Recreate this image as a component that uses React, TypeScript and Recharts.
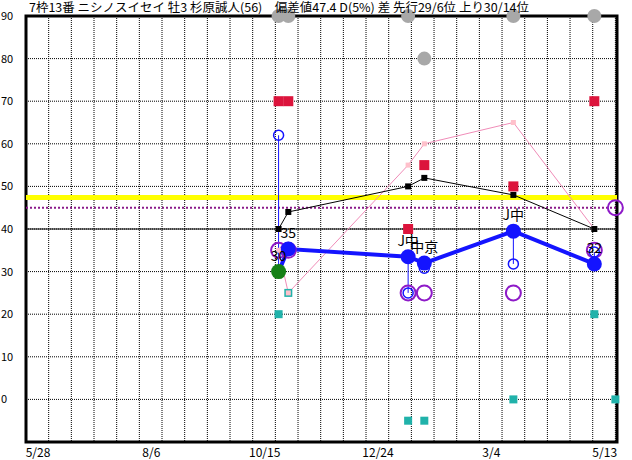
import React from 'react';
import {
  ComposedChart,
  Line,
  Scatter,
  XAxis,
  YAxis,
  CartesianGrid,
  ReferenceLine,
  ReferenceArea,
  ErrorBar,
  LabelList,
} from 'recharts';

const FONT = '"Noto Sans CJK JP", "Noto Sans", sans-serif';

const title = '7枠13番 ニシノスイセイ 牡3 杉原誠人(56)　偏差値47.4 D(5%) 差 先行29/6位 上り30/14位';

// axis
const tickDates = ['5/28', '8/6', '10/15', '12/24', '3/4', '5/13'];
const yTicks = [0, 10, 20, 30, 40, 50, 60, 70, 80, 90];
const lastDate = '5/27';

// races
const raceDates = ['10/31', '11/6', '1/19', '1/29', '3/25', '5/14'];
const raceLabels = ['30', '35', 'J中', '中京', 'J中', '32'];
const indexValues = [30, 35.3, 33.5, 32, 39.5, 31.8];
const rangeValues = [62, 35, 25, 30.8, 31.8, 34.6];
const purpleValues = [35, 35, 25, 25, 25, 35];
const grayValues = [90, 90, 90, 80, 90, 90];
const redValues = [70, 70, 40, 55, 50, 70];
const cyanValues = [20, 25, -5, -5, 0, 20];
const pinkValues = [35, 25, 55, 60, 65, 40];
const blackValues = [40, 44, 50, 52, 48, 40];

// next race
const nextDate = '5/27';
const purpleNext = 45;
const cyanNext = 0;

// horizontal markers
const deviation = 47.4;
const averageLine = 45;
const baseLine = 40;

const dayOf = (md: string) => {
  const [m, d] = md.split('/').map(Number);
  const year = m > 5 || (m === 5 && d >= 28) ? 2001 : 2002;
  return Math.round((Date.UTC(year, m - 1, d) - Date.UTC(2001, 4, 28)) / 86400000);
};

const endDay = dayOf(lastDate) + 1;
const gridDays: number[] = [];
for (let d = 14; d < endDay; d += 14) gridDays.push(d);

const races = raceDates.map((date, i) => ({
  x: dayOf(date),
  index: indexValues[i],
  spread:
    rangeValues[i] > indexValues[i]
      ? [0, rangeValues[i] - indexValues[i]]
      : [indexValues[i] - rangeValues[i], 0],
  pink: pinkValues[i],
  black: blackValues[i],
  label: raceLabels[i],
}));

const points = (vals: number[]) => vals.map((y, i) => ({ x: dayOf(raceDates[i]), y }));
const purplePts = [...points(purpleValues), { x: dayOf(nextDate), y: purpleNext }];
const cyanPts = [...points(cyanValues), { x: dayOf(nextDate), y: cyanNext }];
const grayPts = points(grayValues);
const redPts = points(redValues);
const rangePts = points(rangeValues);

const BLUE = '#1414ff';

const square = (size: number, fill: string) => (p: any) =>
  <rect key={`${p.cx}-${p.cy}`} x={p.cx - size / 2} y={p.cy - size / 2} width={size} height={size} fill={fill} />;
const ring = (r: number, stroke: string, w: number) => (p: any) =>
  <circle key={`${p.cx}-${p.cy}`} cx={p.cx} cy={p.cy} r={r} fill="none" stroke={stroke} strokeWidth={w} />;
const disc = (r: number, fill: string) => (p: any) =>
  <circle key={`${p.cx}-${p.cy}`} cx={p.cx} cy={p.cy} r={r} fill={fill} />;

const XTick = ({ x, y, payload }: any) => {
  const i = tickDates.map(dayOf).indexOf(payload.value);
  return (
    <text x={x + 12} y={y + 15} textAnchor="middle" fontSize={12} fontFamily={FONT} fill="#000">
      {tickDates[i]}
    </text>
  );
};

const YTick = ({ y, payload }: any) => (
  <text x={1} y={y + 4} textAnchor="start" fontSize={11} fontFamily={FONT} fill="#000">
    {payload.value}
  </text>
);

const BlueDot = (p: any) =>
  p.cy == null ? null : (
    <circle key={p.index} cx={p.cx} cy={p.cy} r={7.5} fill={p.index === 0 ? '#168016' : BLUE} />
  );

export default function App() {
  return (
    <div style={{ position: 'absolute', left: 0, top: 0, width: 632, height: 460, background: '#fff' }}>
      <ComposedChart
        width={632}
        height={460}
        data={races}
        margin={{ top: 16, right: 15, bottom: 0, left: 0 }}
      >
        <CartesianGrid
          stroke="#000"
          strokeDasharray="1 1"
          verticalValues={gridDays}
        />
        <XAxis
          type="number"
          dataKey="x"
          domain={[0, endDay]}
          ticks={tickDates.map(dayOf)}
          tick={<XTick />}
          axisLine={false}
          tickLine={false}
          tickSize={0}
          tickMargin={0}
          height={18}
          interval={0}
        />
        <YAxis
          type="number"
          domain={[-10, 90]}
          ticks={yTicks}
          tick={<YTick />}
          axisLine={false}
          tickLine={false}
          width={26}
          interval={0}
        />
        <ReferenceLine y={deviation} stroke="#ffff00" strokeWidth={5} />
        <ReferenceLine y={averageLine} stroke="#8a1a8a" strokeWidth={2} strokeDasharray="2 2" />
        <ReferenceLine y={baseLine} stroke="#000" strokeWidth={1} />
        <ReferenceArea
          x1={0}
          x2={endDay}
          y1={-10}
          y2={90}
          fill="none"
          fillOpacity={0}
          stroke="#000"
          strokeWidth={3}
          ifOverflow="visible"
        />
        <Line
          dataKey="pink"
          stroke="#f08cb8"
          strokeWidth={1}
          dot={square(5, '#ffc0cb')}
          activeDot={false}
          isAnimationActive={false}
        />
        <Line
          dataKey="black"
          stroke="#000"
          strokeWidth={1}
          dot={square(6, '#000')}
          activeDot={false}
          isAnimationActive={false}
        />
        <Scatter data={redPts} dataKey="y" shape={square(10, '#dc143c')} isAnimationActive={false} />
        <Scatter data={cyanPts} dataKey="y" shape={square(8, '#20b2aa')} isAnimationActive={false} />
        <Scatter data={grayPts} dataKey="y" shape={disc(7, '#a8a8a8')} isAnimationActive={false} />
        <Line
          dataKey="index"
          stroke={BLUE}
          strokeWidth={4}
          dot={BlueDot}
          activeDot={false}
          isAnimationActive={false}
        >
          <ErrorBar dataKey="spread" direction="y" width={0} stroke={BLUE} strokeWidth={1} />
          <LabelList dataKey="label" position="top" offset={11} fontSize={14} fontFamily={FONT} fill="#000" />
        </Line>
        <Scatter data={purplePts} dataKey="y" shape={ring(7.5, '#8e1ac8', 2)} isAnimationActive={false} />
        <Scatter data={rangePts} dataKey="y" shape={ring(5, BLUE, 1.5)} isAnimationActive={false} />
      </ComposedChart>
      <svg width={632} height={22} style={{ position: 'absolute', left: 0, top: 0, pointerEvents: 'none' }}>
        <text
          x={29}
          y={12}
          fontSize={12}
          fontFamily={FONT}
          fill="#000"
          textLength={500}
          lengthAdjust="spacingAndGlyphs"
        >
          {title}
        </text>
      </svg>
    </div>
  );
}
